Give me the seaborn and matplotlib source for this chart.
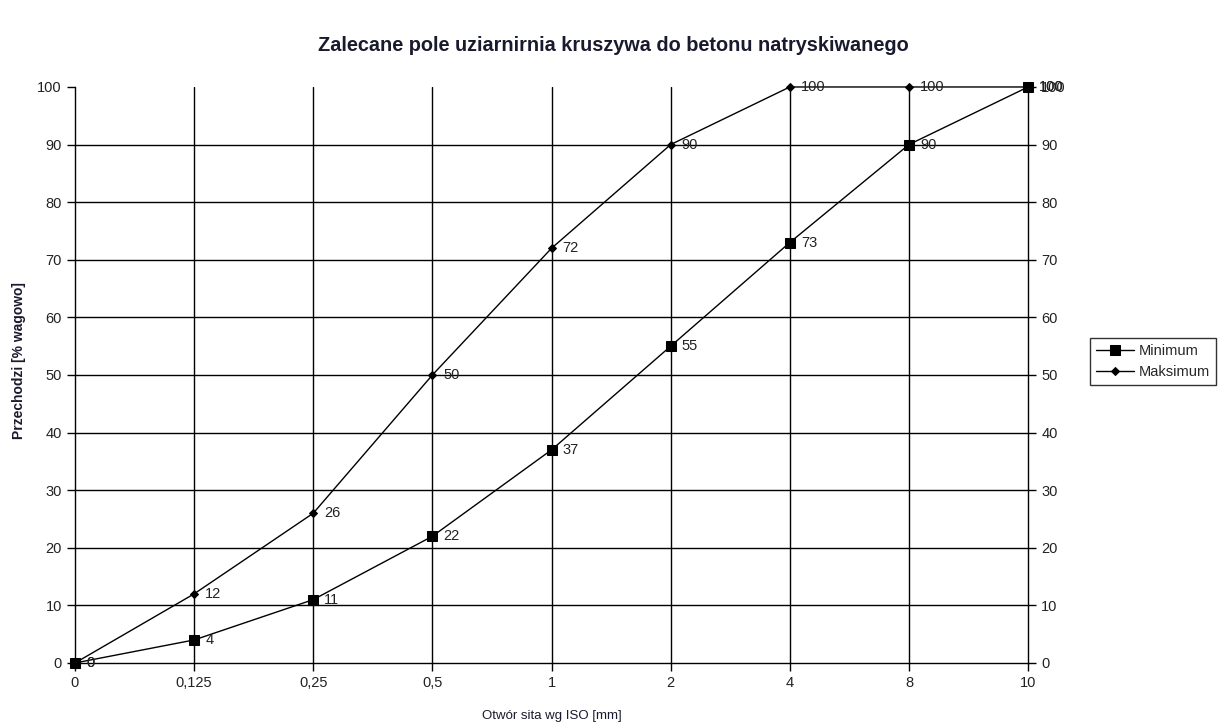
import numpy as np
import pandas as pd
import matplotlib
matplotlib.use("Agg")
import matplotlib.pyplot as plt
import seaborn as sns

# sieve sizes and grading limits
sieves = ["0", "0,125", "0,25", "0,5", "1", "2", "4", "8", "10"]
minimum = [0, 4, 11, 22, 37, 55, 73, 90, 100]
maksimum = [0, 12, 26, 50, 72, 90, 100, 100, 100]

sns.set_style("white")
plt.rcParams['font.family'] = ['Liberation Sans', 'DejaVu Sans']

df = pd.DataFrame({"pos": np.arange(len(sieves)), "Minimum": minimum, "Maksimum": maksimum})

fig = plt.figure(figsize=(12.21, 7.23), dpi=100)
ax = fig.add_axes([0.0614, 0.083, 0.7806, 0.7967])

sns.lineplot(data=df, x="pos", y="Minimum", ax=ax, color="black", lw=1,
             marker="s", markersize=7, markeredgecolor="black", label="Minimum",
             clip_on=False, zorder=3)
sns.lineplot(data=df, x="pos", y="Maksimum", ax=ax, color="black", lw=1,
             marker="D", markersize=4.5, markeredgecolor="black", label="Maksimum",
             clip_on=False, zorder=3)

# data labels right of each point
for col in ["Minimum", "Maksimum"]:
    for x, y in zip(df["pos"], df[col]):
        ax.annotate(str(y), (x, y), xytext=(8, 0), textcoords="offset points",
                    va="center", ha="left", fontsize=10.5, color="#222222",
                    annotation_clip=False)

ax.set_xlim(0, len(sieves) - 1)
ax.set_ylim(0, 100)
ax.set_xticks(df["pos"])
ax.set_xticklabels(sieves)
ax.set_yticks(range(0, 101, 10))

# grid: horizontal 10..90, vertical at each sieve
for yv in range(10, 100, 10):
    ax.axhline(yv, color="black", lw=1, zorder=0)
for xv in df["pos"][1:-1]:
    ax.axvline(xv, color="black", lw=1, zorder=0)

ax.spines["top"].set_visible(False)
for s in ["left", "right", "bottom"]:
    ax.spines[s].set_color("black")
    ax.spines[s].set_linewidth(1)

ax.tick_params(axis="both", direction="out", length=6, width=1, color="black",
               labelsize=10.5, labelcolor="#222222", left=True, bottom=True)
ax.tick_params(axis="y", labelright=True, right=True)

ax.set_xlabel("Otwór sita wg ISO [mm]", fontsize=9.5, labelpad=14, color="#1a1a2e")
ax.set_ylabel("Przechodzi [% wagowo]", fontsize=10, fontweight="bold", color="#1a1a2e")
ax.yaxis.set_label_coords(-0.051, 0.525)
fig.suptitle("Zalecane pole uziarnirnia kruszywa do betonu natryskiwanego",
             x=0.502, y=0.95, fontsize=14.3, fontweight="bold", color="#1a1a2e")

leg = ax.legend(loc="center left", bbox_to_anchor=(0.893, 0.5),
                bbox_transform=fig.transFigure, fontsize=10.5, frameon=True,
                fancybox=False, handlelength=2.6, handletextpad=0.3,
                borderpad=0.4, labelspacing=0.45, borderaxespad=0)
leg.get_frame().set_edgecolor("black")
leg.get_frame().set_linewidth(1)

fig.savefig("out.png", dpi=100)
